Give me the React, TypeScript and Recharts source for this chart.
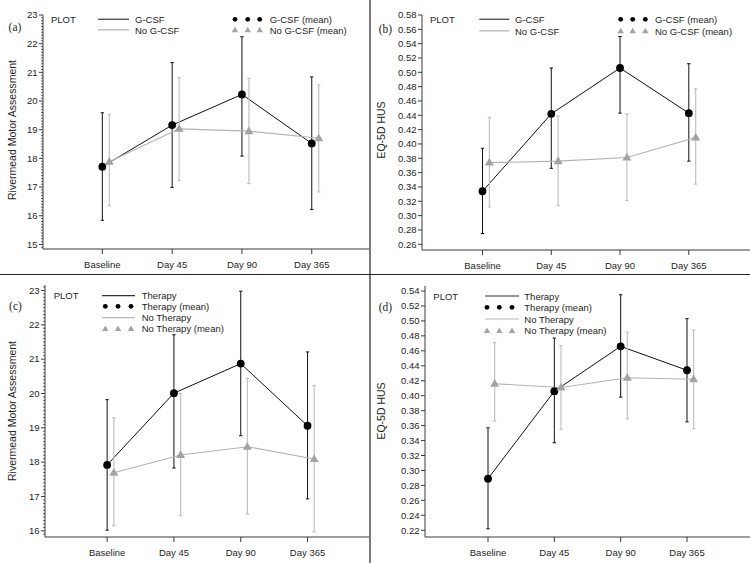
import React from 'react';
import { ComposedChart, Line, XAxis, YAxis, ErrorBar } from 'recharts';

const FONT = '"Liberation Sans", Arial, Helvetica, sans-serif';
const SERIF = '"Liberation Serif", "Times New Roman", serif';
const AX = '#3a3a3a';
const TXT = '#1e1e1e';
const GREY_MARK = '#a3a3a3';
const GREY_LINE = '#b2b2b2';
const GREY_ERR = '#c2c2c2';

// ---------- categories / tick labels ----------
const categories = ['Baseline', 'Day 45', 'Day 90', 'Day 365'];
const xTicks = [0, 1, 2, 3];
const aYTicks = [15, 16, 17, 18, 19, 20, 21, 22, 23];
const bYTicks = [0.26, 0.28, 0.3, 0.32, 0.34, 0.36, 0.38, 0.4, 0.42, 0.44, 0.46, 0.48, 0.5, 0.52, 0.54, 0.56, 0.58];
const cYTicks = [16, 17, 18, 19, 20, 21, 22, 23];
const dYTicks = [0.22, 0.24, 0.26, 0.28, 0.3, 0.32, 0.34, 0.36, 0.38, 0.4, 0.42, 0.44, 0.46, 0.48, 0.5, 0.52, 0.54];

// ---------- panel (a): Rivermead, G-CSF vs No G-CSF ----------
const aGcsfMean = [17.71, 19.16, 20.23, 18.52];
const aGcsfLow = [15.84, 16.99, 18.08, 16.22];
const aGcsfHigh = [19.59, 21.34, 22.24, 20.84];
const aNoGcsfMean = [17.88, 19.03, 18.95, 18.7];
const aNoGcsfLow = [16.35, 17.23, 17.12, 16.83];
const aNoGcsfHigh = [19.53, 20.81, 20.79, 20.56];

// ---------- panel (b): EQ-5D HUS, G-CSF vs No G-CSF ----------
const bGcsfMean = [0.334, 0.442, 0.506, 0.443];
const bGcsfLow = [0.275, 0.366, 0.443, 0.376];
const bGcsfHigh = [0.394, 0.506, 0.55, 0.512];
const bNoGcsfMean = [0.374, 0.376, 0.381, 0.409];
const bNoGcsfLow = [0.312, 0.314, 0.321, 0.344];
const bNoGcsfHigh = [0.437, 0.439, 0.442, 0.477];

// ---------- panel (c): Rivermead, Therapy vs No Therapy ----------
const cTherMean = [17.92, 20.01, 20.87, 19.06];
const cTherLow = [16.02, 17.83, 18.77, 16.93];
const cTherHigh = [19.82, 21.71, 22.98, 21.21];
const cNoTherMean = [17.69, 18.21, 18.45, 18.09];
const cNoTherLow = [16.15, 16.44, 16.49, 15.97];
const cNoTherHigh = [19.29, 20.0, 20.44, 20.23];

// ---------- panel (d): EQ-5D HUS, Therapy vs No Therapy ----------
const dTherMean = [0.289, 0.406, 0.466, 0.434];
const dTherLow = [0.222, 0.337, 0.398, 0.365];
const dTherHigh = [0.357, 0.477, 0.535, 0.503];
const dNoTherMean = [0.416, 0.411, 0.424, 0.422];
const dNoTherLow = [0.366, 0.355, 0.369, 0.356];
const dNoTherHigh = [0.471, 0.467, 0.485, 0.488];

const GREY_SHIFT = 0.1;

type Row = { x: number; y: number; err: [number, number] };
const buildRows = (mean: number[], low: number[], high: number[], shift: number): Row[] =>
  mean.map((m, i) => ({ x: i + shift, y: m, err: [m - low[i], high[i] - m] }));

const buildAxisTicks = (domain: [number, number], major: number[], minorStep?: number): number[] => {
  if (!minorStep) return major;
  const out: number[] = [];
  const start = Math.ceil(domain[0] / minorStep - 1e-9);
  const end = Math.floor(domain[1] / minorStep + 1e-9);
  for (let i = start; i <= end; i++) out.push(Math.round(i * minorStep * 1e6) / 1e6);
  return out;
};

const makeYTick = (major: number[], decimals: number) => (props: any) => {
  const { x, y, payload, index } = props;
  const v = payload.value as number;
  const isMajor = major.some((m) => Math.abs(m - v) < 1e-6);
  const len = isMajor ? 4 : 2;
  return (
    <g key={`yt-${index}`}>
      <line x1={x - len} x2={x} y1={y} y2={y} stroke={AX} strokeWidth={isMajor ? 1 : 0.8} />
      {isMajor && (
        <text x={x - 5.5} y={y} dy="0.35em" textAnchor="end" fontSize={9.5} fill={TXT} fontFamily={FONT}>
          {v.toFixed(decimals)}
        </text>
      )}
    </g>
  );
};

const circleDot = (p: any) => <circle key={`c-${p.index}`} cx={p.cx} cy={p.cy} r={3.9} fill="#000" />;
const triDot = (p: any) => (
  <polygon
    key={`t-${p.index}`}
    points={`${p.cx},${p.cy - 4.8} ${p.cx - 4.5},${p.cy + 3} ${p.cx + 4.5},${p.cy + 3}`}
    fill={GREY_MARK}
  />
);

type PanelProps = {
  left: number;
  top: number;
  width: number;
  height: number;
  margin: { top: number; right: number; bottom: number; left: number };
  yWidth: number;
  xHeight: number;
  xDomain: [number, number];
  yDomain: [number, number];
  yTicks: number[];
  minorStep?: number;
  decimals: number;
  black: Row[];
  grey: Row[];
};

function Panel(p: PanelProps) {
  const ticks = buildAxisTicks(p.yDomain, p.yTicks, p.minorStep);
  return (
    <div style={{ position: 'absolute', left: p.left, top: p.top }}>
      <ComposedChart width={p.width} height={p.height} margin={p.margin} style={{ fontFamily: FONT }}>
        <XAxis
          xAxisId="b"
          dataKey="x"
          type="number"
          domain={p.xDomain}
          allowDataOverflow
          ticks={xTicks}
          interval={0}
          tickFormatter={(v: number) => categories[v]}
          height={p.xHeight}
          axisLine={{ stroke: AX, strokeWidth: 1.2 }}
          tickLine={{ stroke: AX }}
          tickSize={5}
          tickMargin={7.5}
          tick={{ fontSize: 9.5, fill: TXT, fontFamily: FONT }}
        />
        <XAxis
          xAxisId="t"
          orientation="top"
          type="number"
          domain={p.xDomain}
          allowDataOverflow
          height={0}
          tick={false}
          tickLine={false}
          axisLine={{ stroke: AX }}
        />
        <YAxis
          yAxisId="l"
          type="number"
          domain={p.yDomain}
          allowDataOverflow
          ticks={ticks}
          interval={0}
          width={p.yWidth}
          tickSize={0}
          tickMargin={0}
          tickLine={false}
          axisLine={{ stroke: AX }}
          tick={makeYTick(p.yTicks, p.decimals)}
        />
        <Line
          xAxisId="b"
          yAxisId="l"
          data={p.black}
          dataKey="y"
          stroke="#111"
          strokeWidth={1}
          dot={circleDot}
          activeDot={false}
          isAnimationActive={false}
        >
          <ErrorBar dataKey="err" direction="y" width={1.7} stroke="#111" strokeWidth={1} isAnimationActive={false} />
        </Line>
        <Line
          xAxisId="b"
          yAxisId="l"
          data={p.grey}
          dataKey="y"
          stroke={GREY_LINE}
          strokeWidth={1.1}
          dot={triDot}
          activeDot={false}
          isAnimationActive={false}
        >
          <ErrorBar dataKey="err" direction="y" width={1.7} stroke={GREY_ERR} strokeWidth={1.2} isAnimationActive={false} />
        </Line>
      </ComposedChart>
    </div>
  );
}

const T = (props: any) => (
  <text fontFamily={FONT} fontSize={9.5} fill={TXT} dy="0.35em" {...props} />
);

const Dots = ({ xs, y }: { xs: number[]; y: number }) => (
  <g>
    {xs.map((x, i) => (
      <circle key={i} cx={x} cy={y} r={2.4} fill="#000" />
    ))}
  </g>
);
const Tris = ({ xs, y }: { xs: number[]; y: number }) => (
  <g>
    {xs.map((x, i) => (
      <polygon key={i} points={`${x},${y - 3.3} ${x - 3.2},${y + 2.3} ${x + 3.2},${y + 2.3}`} fill={GREY_MARK} />
    ))}
  </g>
);

function Overlay() {
  return (
    <svg
      width={750}
      height={563}
      style={{ position: 'absolute', left: 0, top: 0, pointerEvents: 'none' }}
    >
      {/* dividers */}
      <rect x={369} y={0} width={2} height={563} fill="#7a7a7a" />
      <line x1={0} x2={750} y1={274.5} y2={274.5} stroke="#222" strokeWidth={1} />

      {/* panel letters */}
      <text x={15} y={26.7} dy="0.35em" textAnchor="middle" fontFamily={SERIF} fontSize={11.5} fill={TXT}>(a)</text>
      <text x={385.5} y={29.3} dy="0.35em" textAnchor="middle" fontFamily={SERIF} fontSize={11.5} fill={TXT}>(b)</text>
      <text x={15.5} y={306} dy="0.35em" textAnchor="middle" fontFamily={SERIF} fontSize={11.5} fill={TXT}>(c)</text>
      <text x={385.5} y={306.7} dy="0.35em" textAnchor="middle" fontFamily={SERIF} fontSize={11.5} fill={TXT}>(d)</text>

      {/* y titles */}
      <T x={12} y={130} textAnchor="middle" fontSize={10.5} transform="rotate(-90 12 130)">Rivermead Motor Assessment</T>
      <T x={381} y={130} textAnchor="middle" fontSize={10.5} transform="rotate(-90 381 130)">EQ-5D HUS</T>
      <T x={12} y={411} textAnchor="middle" fontSize={10.5} transform="rotate(-90 12 411)">Rivermead Motor Assessment</T>
      <T x={381} y={411} textAnchor="middle" fontSize={10.5} transform="rotate(-90 381 411)">EQ-5D HUS</T>

      {/* legend (a) */}
      <T x={51} y={19.8}>PLOT</T>
      <line x1={98} x2={129} y1={19.3} y2={19.3} stroke="#555" strokeWidth={1.4} />
      <T x={135} y={19.8}>G-CSF</T>
      <line x1={98} x2={129} y1={29.8} y2={29.8} stroke="#bbb" strokeWidth={1.4} />
      <T x={135} y={30.2}>No G-CSF</T>
      <Dots xs={[235, 247.7, 259.7]} y={19.3} />
      <T x={269.7} y={19.8}>G-CSF (mean)</T>
      <Tris xs={[235, 247.7, 259.7]} y={30} />
      <T x={269.7} y={30.2}>No G-CSF (mean)</T>

      {/* legend (b) */}
      <T x={430} y={20}>PLOT</T>
      <line x1={479.3} x2={509.3} y1={19.3} y2={19.3} stroke="#555" strokeWidth={1.4} />
      <T x={515} y={19.8}>G-CSF</T>
      <line x1={479.3} x2={509.3} y1={30.8} y2={30.8} stroke="#bbb" strokeWidth={1.4} />
      <T x={515} y={31.3}>No G-CSF</T>
      <Dots xs={[620.7, 632.7, 645.3]} y={19.3} />
      <T x={655} y={19.8}>G-CSF (mean)</T>
      <Tris xs={[620.7, 632.7, 645.3]} y={31} />
      <T x={655} y={31.3}>No G-CSF (mean)</T>

      {/* legend (c) */}
      <T x={53.7} y={296}>PLOT</T>
      <line x1={102} x2={135} y1={295.7} y2={295.7} stroke="#333" strokeWidth={1.2} />
      <T x={141.7} y={296}>Therapy</T>
      <Dots xs={[105.3, 118, 131]} y={306.3} />
      <T x={141.7} y={306.6}>Therapy (mean)</T>
      <line x1={102} x2={135} y1={317.7} y2={317.7} stroke="#bbb" strokeWidth={1.2} />
      <T x={141.7} y={318}>No Therapy</T>
      <Tris xs={[105.3, 118, 131]} y={328.7} />
      <T x={141.7} y={329}>No Therapy (mean)</T>

      {/* legend (d) */}
      <T x={433.3} y={296.3}>PLOT</T>
      <line x1={485} x2={519} y1={296} y2={296} stroke="#333" strokeWidth={1.2} />
      <T x={524.3} y={296.3}>Therapy</T>
      <Dots xs={[487, 499.3, 512]} y={307.3} />
      <T x={524.3} y={307.6}>Therapy (mean)</T>
      <line x1={485} x2={519} y1={319} y2={319} stroke="#bbb" strokeWidth={1.2} />
      <T x={524.3} y={319.3}>No Therapy</T>
      <Tris xs={[487, 499.3, 512]} y={330.7} />
      <T x={524.3} y={331}>No Therapy (mean)</T>
    </svg>
  );
}

export default function App() {
  return (
    <div style={{ position: 'absolute', left: 0, top: 0, width: 750, height: 563, background: '#fff', overflow: 'hidden', fontFamily: FONT }}>
      <Panel
        left={0}
        top={0}
        width={375}
        height={274}
        margin={{ top: 15, right: 6, bottom: 0, left: 0 }}
        yWidth={43}
        xHeight={25}
        xDomain={[-0.85, 3.82]}
        yDomain={[14.84, 23]}
        yTicks={aYTicks}
        minorStep={0.1}
        decimals={0}
        black={buildRows(aGcsfMean, aGcsfLow, aGcsfHigh, 0)}
        grey={buildRows(aNoGcsfMean, aNoGcsfLow, aNoGcsfHigh, GREY_SHIFT)}
      />
      <Panel
        left={375}
        top={0}
        width={375}
        height={274}
        margin={{ top: 15, right: 0, bottom: 0, left: 0 }}
        yWidth={47}
        xHeight={24}
        xDomain={[-0.88, 3.89]}
        yDomain={[0.252, 0.58]}
        yTicks={bYTicks}
        decimals={2}
        black={buildRows(bGcsfMean, bGcsfLow, bGcsfHigh, 0)}
        grey={buildRows(bNoGcsfMean, bNoGcsfLow, bNoGcsfHigh, GREY_SHIFT)}
      />
      <Panel
        left={0}
        top={275}
        width={375}
        height={288}
        margin={{ top: 10, right: 6, bottom: 0, left: 0 }}
        yWidth={45}
        xHeight={26}
        xDomain={[-0.93, 3.92]}
        yDomain={[15.82, 23.16]}
        yTicks={cYTicks}
        minorStep={0.1}
        decimals={0}
        black={buildRows(cTherMean, cTherLow, cTherHigh, 0)}
        grey={buildRows(cNoTherMean, cNoTherLow, cNoTherHigh, GREY_SHIFT)}
      />
      <Panel
        left={375}
        top={275}
        width={375}
        height={288}
        margin={{ top: 11, right: 0, bottom: 0, left: 0 }}
        yWidth={50}
        xHeight={26}
        xDomain={[-0.95, 3.95]}
        yDomain={[0.211, 0.5467]}
        yTicks={dYTicks}
        decimals={2}
        black={buildRows(dTherMean, dTherLow, dTherHigh, 0)}
        grey={buildRows(dNoTherMean, dNoTherLow, dNoTherHigh, GREY_SHIFT)}
      />
      <Overlay />
    </div>
  );
}
